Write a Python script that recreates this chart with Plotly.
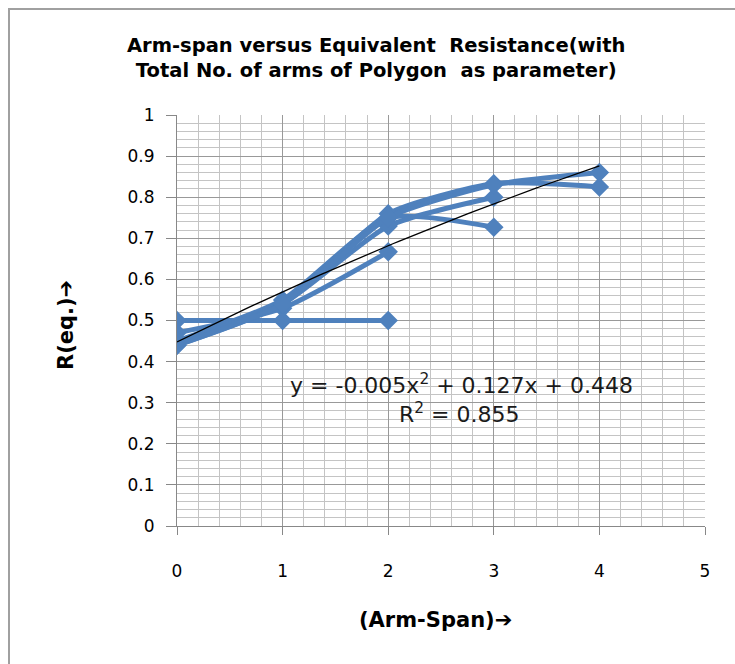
import plotly.graph_objects as go

# Data
span_a = [0, 1, 2]
req_a = [0.50, 0.50, 0.50]
span_b = [0, 1, 2]
req_b = [0.47, 0.53, 0.667]
span_c = [0, 1, 2, 3]
req_c = [0.45, 0.55, 0.75, 0.727]
span_d = [0, 1, 2, 3]
req_d = [0.45, 0.54, 0.73, 0.80]
span_e = [0, 1, 2, 3, 4]
req_e = [0.44, 0.54, 0.76, 0.833, 0.825]
span_f = [0, 1, 2, 3, 4]
req_f = [0.44, 0.54, 0.75, 0.83, 0.86]

series = [(span_a, req_a), (span_b, req_b), (span_c, req_c),
          (span_d, req_d), (span_e, req_e), (span_f, req_f)]

# Polynomial trendline coefficients (as printed on the chart)
trend_coef = [-0.005, 0.127, 0.448]
trend_x = [i / 20 for i in range(0, 81)]
trend_y = [trend_coef[0] * x * x + trend_coef[1] * x + trend_coef[2] for x in trend_x]

x_ticks = [0, 1, 2, 3, 4, 5]
y_ticks = [0, 0.1, 0.2, 0.3, 0.4, 0.5, 0.6, 0.7, 0.8, 0.9, 1]
y_tick_text = ["0", "0.1", "0.2", "0.3", "0.4", "0.5", "0.6", "0.7", "0.8", "0.9", "1"]

BLUE = "#4F81BD"
FONT = "DejaVu Sans"

fig = go.Figure()
for sx, sy in series:
    fig.add_trace(go.Scatter(
        x=sx, y=sy, mode="lines+markers",
        line=dict(color=BLUE, width=5, shape="spline", smoothing=0.6),
        marker=dict(symbol="diamond", size=15, color=BLUE),
        showlegend=False, hoverinfo="skip"))

fig.add_trace(go.Scatter(
    x=trend_x, y=trend_y, mode="lines",
    line=dict(color="black", width=1.3),
    showlegend=False, hoverinfo="skip"))

L, R, T, B = 177, 30, 115, 138
W, H = 735, 664
pw = W - L - R
ph = H - T - B

def px(xp):
    return (xp - L) / pw

def py(yp):
    return (H - B - yp) / ph

fig.update_layout(
    width=W, height=H,
    margin=dict(l=L, r=R, t=T, b=B),
    paper_bgcolor="white", plot_bgcolor="white",
    font=dict(family=FONT, color="black"),
    shapes=[dict(type="rect", xref="paper", yref="paper",
                 x0=px(9), x1=px(760), y0=py(690), y1=py(9),
                 line=dict(color="#a0a0a0", width=2), layer="below")],
    annotations=[
        dict(text="<b>Arm-span versus Equivalent  Resistance(with<br>Total No. of arms of Polygon  as parameter)</b>",
             xref="paper", yref="paper", x=px(376), y=py(58), showarrow=False,
             font=dict(family=FONT, size=19.5, color="black"), align="center",
             xanchor="center", yanchor="middle"),
        dict(text="y = -0.005x<sup>2</sup> + 0.127x + 0.448",
             xref="paper", yref="paper", x=px(461), y=py(384), showarrow=False,
             font=dict(family=FONT, size=22, color="#1a1a1a"),
             xanchor="center", yanchor="middle"),
        dict(text="R<sup>2</sup> = 0.855",
             xref="paper", yref="paper", x=px(459), y=py(413), showarrow=False,
             font=dict(family=FONT, size=22, color="#1a1a1a"),
             xanchor="center", yanchor="middle"),
        dict(text="<b>(Arm-Span)\u2794</b>",
             xref="paper", yref="paper", x=px(435), y=py(620), showarrow=False,
             font=dict(family=FONT, size=21, color="black"),
             xanchor="center", yanchor="middle"),
        dict(text="<b>R(eq.)\u2794</b>",
             xref="paper", yref="paper", x=px(66), y=py(325), showarrow=False,
             font=dict(family=FONT, size=21, color="black"), textangle=-90,
             xanchor="center", yanchor="middle"),
    ],
)

fig.update_xaxes(
    range=[0, 5], tickvals=x_ticks, ticktext=[str(v) for v in x_ticks],
    showgrid=True, gridcolor="#999999", gridwidth=1,
    minor=dict(dtick=0.2, showgrid=True, gridcolor="#c4c4c4", gridwidth=1.3),
    showline=True, linecolor="#888888", linewidth=1,
    ticks="outside", ticklen=8, tickcolor="#888888",
    tickfont=dict(family=FONT, size=17, color="black"),
    zeroline=False, mirror=False, ticklabelstandoff=22)

fig.update_yaxes(
    range=[0, 1], tickvals=y_ticks, ticktext=y_tick_text,
    showgrid=True, gridcolor="#999999", gridwidth=1,
    minor=dict(dtick=0.02, showgrid=True, gridcolor="#c4c4c4", gridwidth=1.3),
    showline=True, linecolor="#888888", linewidth=1,
    ticks="outside", ticklen=10, tickcolor="#888888",
    tickfont=dict(family=FONT, size=17, color="black"),
    zeroline=False, ticklabelstandoff=8)

fig.write_html("out.html")
